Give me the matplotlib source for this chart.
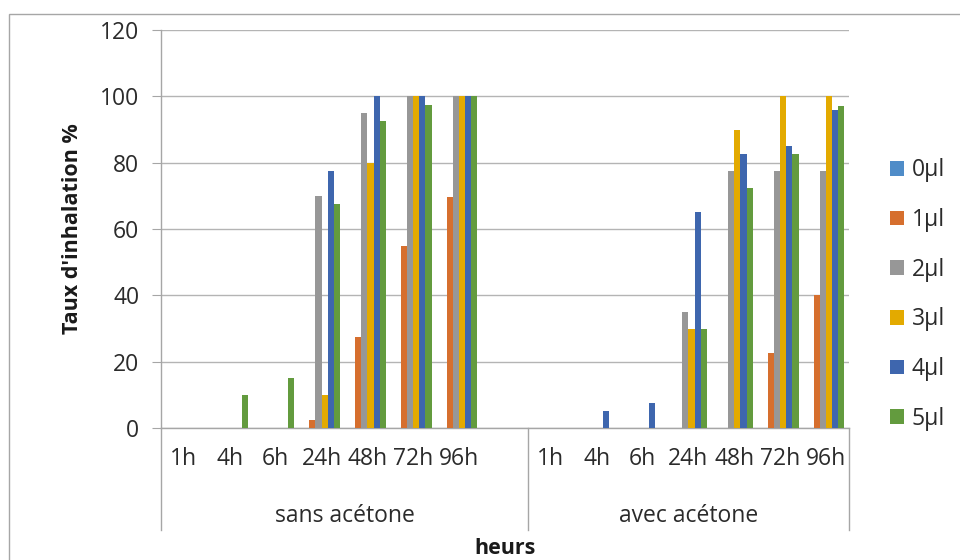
import matplotlib
matplotlib.use("Agg")
import matplotlib.pyplot as plt
import matplotlib.transforms as mtransforms
from matplotlib.patches import Rectangle
import numpy as np

plt.rcParams['font.family'] = ['Open Sans', 'DejaVu Sans']

# Données
heures = ["1h", "4h", "6h", "24h", "48h", "72h", "96h"]
groupes = ["sans acétone", "avec acétone"]
doses = ["0µl", "1µl", "2µl", "3µl", "4µl", "5µl"]

sans_0 = [0, 0, 0, 0, 0, 0, 0]
sans_1 = [0, 0, 0, 2.5, 27.5, 55, 69.5]
sans_2 = [0, 0, 0, 70, 95, 100, 100]
sans_3 = [0, 0, 0, 10, 80, 100, 100]
sans_4 = [0, 0, 0, 77.5, 100, 100, 100]
sans_5 = [0, 10, 15, 67.5, 92.5, 97.5, 100]

avec_0 = [0, 0, 0, 0, 0, 0, 0]
avec_1 = [0, 0, 0, 0, 0, 22.5, 40]
avec_2 = [0, 0, 0, 35, 77.5, 77.5, 77.5]
avec_3 = [0, 0, 0, 30, 90, 100, 100]
avec_4 = [0, 5, 7.5, 65, 82.5, 85, 96]
avec_5 = [0, 0, 0, 30, 72.5, 82.5, 97]

sans = [sans_0, sans_1, sans_2, sans_3, sans_4, sans_5]
avec = [avec_0, avec_1, avec_2, avec_3, avec_4, avec_5]

couleurs = ["#4F8CC8", "#D66F2E", "#979797", "#E3AA00", "#3E66AE", "#639B3E"]
gris = "#a6a6a6"
texte = "#2b2b2b"

# Figure
fig = plt.figure(figsize=(9.6, 5.6), dpi=100)
ax = fig.add_axes([161 / 960, 1 - 428 / 560, 688 / 960, 398 / 560])

# positions : 7 catégories + 1 vide pour "sans", puis 7 pour "avec"
x_sans = np.arange(len(heures))
x_avec = np.arange(len(heures)) + len(heures) + 1
n = len(doses)
w = 0.8 / n

barres = []
for i in range(n):
    off = (i - (n - 1) / 2) * w
    b = ax.bar(x_sans + off, sans[i], w, color=couleurs[i], label=doses[i], zorder=3)
    ax.bar(x_avec + off, avec[i], w, color=couleurs[i], zorder=3)
    barres.append(b)

ax.set_xlim(-0.5, x_avec[-1] + 0.5)
ax.set_ylim(0, 120)
ax.set_yticks(np.arange(0, 121, 20))
ax.yaxis.grid(True, color="#b4b4b4", lw=1)
ax.set_axisbelow(True)

for s in ["top", "right"]:
    ax.spines[s].set_visible(False)
for s in ["left", "bottom"]:
    ax.spines[s].set_color(gris)
    ax.spines[s].set_linewidth(1)

ax.tick_params(axis="y", length=6.5, color=gris, pad=9, labelsize=16.5, labelcolor=texte)
ax.set_xticks(list(x_sans) + list(x_avec))
ax.set_xticklabels(heures + heures)
ax.tick_params(axis="x", length=0, pad=14, labelsize=16.5, labelcolor=texte)

# axe de catégories à deux niveaux
trans = mtransforms.blended_transform_factory(ax.transData, ax.transAxes)
bas = -(530 - 428) / 398
for xs in [-0.5, len(heures) + 0.5, x_avec[-1] + 0.5]:
    ax.plot([xs, xs], [0, bas], transform=trans, color=gris, lw=1, clip_on=False)
centres = [(-0.5 + len(heures) + 0.5) / 2, (len(heures) + 0.5 + x_avec[-1] + 0.5) / 2]
for c, g in zip(centres, groupes):
    ax.text(c, -(516 - 428) / 398, g, transform=trans, ha="center", va="center",
            fontsize=16.5, color=texte)

fig.text(505 / 960, 1 - 549 / 560, "heurs", ha="center", va="center",
         fontsize=15.5, fontweight="bold", color="#1a1a1a")
fig.text(72 / 960, 1 - 229 / 560, "Taux d'inhalation %", rotation=90, ha="center",
         va="center", fontsize=15.5, fontweight="bold", color="#1a1a1a")

# légende
fig.legend(handles=barres, labels=doses, loc="center left",
           bbox_to_anchor=(890 / 960, 1 - 294.5 / 560), frameon=False,
           borderpad=0, borderaxespad=0, handlelength=0.6, handleheight=0.6,
           handletextpad=0.35, labelspacing=1.12, fontsize=16.5, labelcolor=texte)

# cadre du graphique
fig.add_artist(Rectangle((9 / 960, -0.1), 2, 1 - 14 / 560 + 0.1, transform=fig.transFigure,
                         fill=False, edgecolor=gris, lw=1))

fig.savefig("out.png", dpi=100)
